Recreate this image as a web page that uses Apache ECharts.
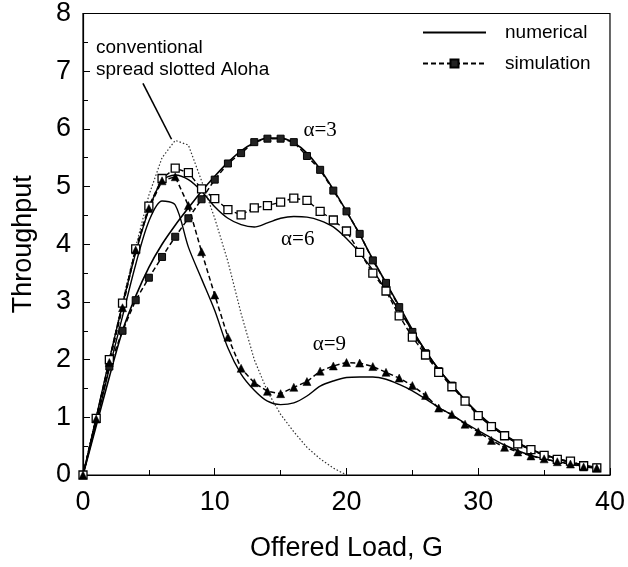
<!DOCTYPE html>
<html>
<head>
<meta charset="utf-8">
<script src="https://cdn.jsdelivr.net/npm/echarts@6/dist/echarts.min.js"></script>
<style>
html,body{margin:0;padding:0;background:#fff;}
#chart{width:628px;height:567px;}
</style>
</head>
<body>
<div id="chart"></div>
<script>
// Offered load G (integer steps) for simulation / numerical curves
const loadG = [0,1,2,3,4,5,6,7,8,9,10,11,12,13,14,15,16,17,18,19,20,21,22,23,24,25,26,27,28,29,30,31,32,33,34,35,36,37,38,39];

// alpha = 3
const a3Numerical = [0,0.85,1.7,2.5,3.1,3.6,4.0,4.33,4.63,4.92,5.18,5.42,5.62,5.76,5.84,5.84,5.76,5.58,5.3,4.95,4.57,4.17,3.74,3.33,2.93,2.52,2.15,1.83,1.56,1.3,1.06,0.86,0.69,0.55,0.44,0.35,0.28,0.22,0.17,0.13];
const a3Simulation = [0,0.97,1.88,2.5,3.03,3.42,3.78,4.13,4.45,4.78,5.12,5.4,5.58,5.77,5.83,5.83,5.77,5.53,5.29,4.93,4.57,4.18,3.72,3.33,2.91,2.48,2.11,1.8,1.55,1.29,1.04,0.85,0.68,0.54,0.44,0.34,0.27,0.23,0.16,0.13];

// alpha = 6
const a6Numerical = [0,1.0,2.0,2.95,3.85,4.6,5.1,5.2,5.12,4.92,4.65,4.45,4.34,4.3,4.37,4.45,4.48,4.47,4.41,4.3,4.1,3.85,3.55,3.2,2.85,2.5,2.15,1.83,1.56,1.3,1.07,0.87,0.7,0.56,0.45,0.36,0.28,0.22,0.17,0.13];
const a6Simulation = [0,0.98,2.0,2.98,3.92,4.66,5.14,5.32,5.24,4.96,4.79,4.6,4.51,4.63,4.67,4.73,4.8,4.76,4.57,4.42,4.23,3.86,3.5,3.19,2.76,2.39,2.08,1.78,1.53,1.28,1.03,0.84,0.68,0.54,0.44,0.34,0.27,0.24,0.16,0.125];

// alpha = 9
const a9Numerical = [0,0.9,1.85,2.75,3.65,4.4,4.75,4.68,3.95,3.4,2.85,2.2,1.75,1.47,1.28,1.22,1.25,1.37,1.54,1.63,1.69,1.7,1.7,1.66,1.57,1.46,1.32,1.17,1.04,0.9,0.77,0.64,0.52,0.42,0.34,0.28,0.23,0.19,0.15,0.12];
const a9Simulation = [0,0.97,1.95,2.9,3.9,4.62,5.1,5.17,4.67,3.87,3.12,2.39,1.85,1.6,1.45,1.41,1.52,1.62,1.8,1.89,1.95,1.94,1.88,1.78,1.68,1.55,1.38,1.16,1.05,0.88,0.75,0.6,0.48,0.4,0.33,0.28,0.23,0.19,0.14,0.12];

// conventional spread slotted Aloha
const convG = [0,1,2,3,4,5,6,7,8,9,10,11,12,13,14,15,16,17,18,19,20];
const convThroughput = [0,1.0,2.0,3.0,3.95,4.85,5.5,5.8,5.72,5.1,4.45,3.7,2.8,2.0,1.45,1.05,0.75,0.48,0.28,0.12,0];

const xTicks = [0,10,20,30,40];
const yTicks = [0,1,2,3,4,5,6,7,8];

function pairs(xa, ya){ return xa.map((x,i)=>[x, ya[i]]); }

const SANS = 'Liberation Sans, Arial, Helvetica, sans-serif';
const SERIF = 'Liberation Serif, Times New Roman, serif';

function alphaLabel(txt, coord){
  return {
    silent:true,
    symbol:'circle', symbolSize:0,
    data:[{coord:coord, value:txt}],
    label:{show:true, position:'inside', formatter:txt, color:'#000', fontFamily:SERIF, fontSize:21}
  };
}

const chart = echarts.init(document.getElementById('chart'), null, {renderer:'canvas'});
const option = {
  animation:false,
  backgroundColor:'#fff',
  grid:{left:83, right:17, top:12, bottom:87, show:true, borderColor:'#000', borderWidth:1.2, backgroundColor:'transparent'},
  legend:{
    data:[
      {name:'numerical', itemStyle:{color:'rgba(0,0,0,0)', borderColor:'rgba(0,0,0,0)', borderWidth:0}},
      {name:'simulation'}
    ],
    orient:'vertical', left:417, top:18,
    itemWidth:63, itemHeight:10, itemGap:12,
    textStyle:{fontFamily:SANS, fontSize:19, color:'#000', padding:[0,0,0,14]},
    selectedMode:false
  },
  xAxis:{
    type:'value', min:0, max:40, interval:10,
    name:'Offered Load, G', nameLocation:'middle', nameGap:60,
    nameTextStyle:{fontFamily:SANS, fontSize:27, color:'#000'},
    axisLine:{show:true, lineStyle:{color:'#000', width:1.2}},
    axisTick:{show:true, inside:true, length:7, lineStyle:{color:'#000'}},
    minorTick:{show:true, splitNumber:2, length:5, lineStyle:{color:'#000'}},
    splitLine:{show:false},
    axisLabel:{fontFamily:SANS, fontSize:27, color:'#000', margin:14,
      formatter:v=> xTicks.indexOf(v)>=0 ? String(v) : ''}
  },
  yAxis:{
    type:'value', min:0, max:8, interval:1,
    name:'Throughput', nameLocation:'middle', nameGap:46,
    nameTextStyle:{fontFamily:SANS, fontSize:27, color:'#000'},
    axisLine:{show:true, lineStyle:{color:'#000', width:1.2}},
    axisTick:{show:true, inside:true, length:7, lineStyle:{color:'#000'}},
    minorTick:{show:true, splitNumber:2, length:5, lineStyle:{color:'#000'}},
    splitLine:{show:false},
    axisLabel:{fontFamily:SANS, fontSize:27, color:'#000', margin:12,
      formatter:v=> yTicks.indexOf(v)>=0 ? String(v) : ''}
  },
  graphic:[{
    type:'text', left:96, top:37,
    style:{text:'conventional\nspread slotted Aloha', font:'19px Liberation Sans, Arial, sans-serif', fill:'#000', lineHeight:22}
  }],
  series:[
    {
      name:'conventional', type:'line', data:pairs(convG, convThroughput),
      symbol:'none', lineStyle:{color:'#333', width:1.2, type:[1.5,2]},
      z:1,
      markLine:{
        silent:true, symbol:['none','arrow'], symbolSize:[0,11],
        lineStyle:{color:'#000', width:1.6, type:'solid'},
        label:{show:false},
        data:[[{coord:[4.55,6.79]},{coord:[6.72,5.82]}]]
      }
    },
    {name:'numerical', type:'line', data:pairs(loadG, a3Numerical), symbol:'none', smooth:0.3,
      lineStyle:{color:'#000', width:1.6, type:'solid'}, itemStyle:{color:'#000'},
      markPoint:alphaLabel('α=3',[18.0,5.97])},
    {name:'numerical', type:'line', data:pairs(loadG, a6Numerical), symbol:'none', smooth:0.3,
      lineStyle:{color:'#000', width:1.4, type:'solid'}, itemStyle:{color:'#000'},
      markPoint:alphaLabel('α=6',[16.3,4.09])},
    {name:'numerical', type:'line', data:pairs(loadG, a9Numerical), symbol:'none', smooth:0.3,
      lineStyle:{color:'#000', width:1.4, type:'solid'}, itemStyle:{color:'#000'},
      markPoint:alphaLabel('α=9',[18.7,2.27])},
    {name:'simulation', type:'line', data:pairs(loadG, a3Simulation), symbol:'rect', symbolSize:7,
      lineStyle:{color:'#000', width:1.5, type:[5,3]},
      itemStyle:{color:'#222', borderColor:'#000', borderWidth:1}},
    {name:'simulation', type:'line', data:pairs(loadG, a6Simulation), symbol:'rect', symbolSize:8,
      lineStyle:{color:'#000', width:1.4, type:[5,3]},
      itemStyle:{color:'#fff', borderColor:'#000', borderWidth:1.3}},
    {name:'simulation', type:'line', data:pairs(loadG, a9Simulation), symbol:'triangle', symbolSize:8,
      lineStyle:{color:'#000', width:1.5, type:[5,3]},
      itemStyle:{color:'#000', borderColor:'#000', borderWidth:0.5}}
  ]
};
chart.setOption(option);
</script>
</body>
</html>
